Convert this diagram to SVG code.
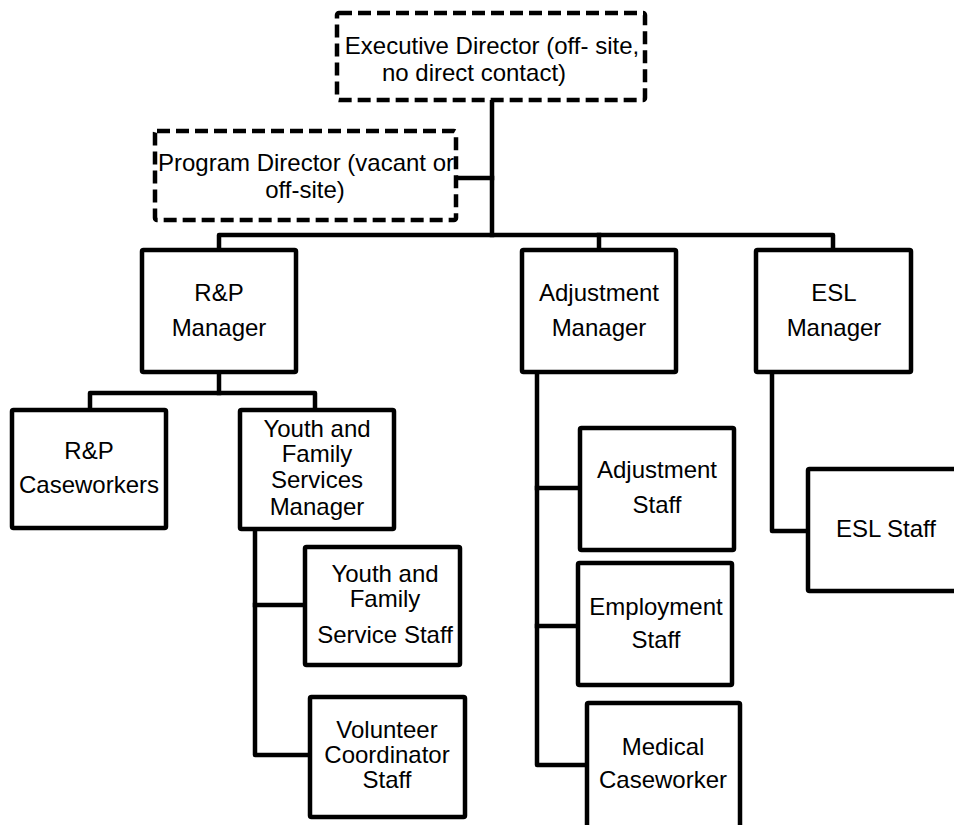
<svg xmlns="http://www.w3.org/2000/svg" width="954" height="825" viewBox="0 0 954 825">
<style>
.box{fill:#fff;stroke:#000;stroke-width:4.5;stroke-linejoin:round}
.dash{fill:#fff;stroke:#000;stroke-width:4.5;stroke-dasharray:13 6;stroke-linejoin:round}
.con{fill:none;stroke:#000;stroke-width:4.5;stroke-linejoin:round;stroke-linecap:square}
text{font-family:"Liberation Sans",Arial,sans-serif;font-size:24px;fill:#000;text-anchor:middle}
</style>
<rect width="954" height="825" fill="#fff"/>
<g id="connectors">
<path class="con" d="M492,100 V235"/>
<path class="con" d="M456,178 H492"/>
<path class="con" d="M219,250 V235 H833 V250"/>
<path class="con" d="M599,235 V250"/>
<path class="con" d="M219,372 V393"/>
<path class="con" d="M90,410 V393 H315 V410"/>
<path class="con" d="M255,530 V755 H310"/>
<path class="con" d="M255,605 H305"/>
<path class="con" d="M537,372 V765 H587"/>
<path class="con" d="M537,488 H580"/>
<path class="con" d="M537,626 H578"/>
<path class="con" d="M772,372 V531 H808"/>
</g>
<g id="exec">
<rect class="dash" x="337" y="13" width="308" height="87" rx="2"/>
<text x="492" y="54">Executive Director (off- site,</text>
<text x="474" y="81">no direct contact)</text>
</g>
<g id="program">
<rect class="dash" x="155" y="131" width="301" height="89" rx="2"/>
<text x="306" y="171">Program Director (vacant or</text>
<text x="305" y="198">off-site)</text>
</g>
<g id="rp-manager">
<rect class="box" x="142" y="250" width="154" height="122" rx="1.5"/>
<text x="219" y="301">R&amp;P</text>
<text x="219" y="336">Manager</text>
</g>
<g id="adj-manager">
<rect class="box" x="522" y="250" width="154" height="122" rx="1.5"/>
<text x="599" y="301">Adjustment</text>
<text x="599" y="336">Manager</text>
</g>
<g id="esl-manager">
<rect class="box" x="756" y="250" width="155" height="122" rx="1.5"/>
<text x="834" y="301">ESL</text>
<text x="834" y="336">Manager</text>
</g>
<g id="rp-caseworkers">
<rect class="box" x="12" y="410" width="154" height="118" rx="1.5"/>
<text x="89" y="459">R&amp;P</text>
<text x="89" y="493">Caseworkers</text>
</g>
<g id="yfs-manager">
<rect class="box" x="240" y="410" width="154" height="119" rx="1.5"/>
<text x="317" y="437">Youth and</text>
<text x="317" y="462">Family</text>
<text x="317" y="488">Services</text>
<text x="317" y="515">Manager</text>
</g>
<g id="yfs-staff">
<rect class="box" x="305" y="547" width="155" height="118" rx="1.5"/>
<text x="385" y="582">Youth and</text>
<text x="385" y="607">Family</text>
<text x="385" y="643">Service Staff</text>
</g>
<g id="volunteer">
<rect class="box" x="310" y="697" width="155" height="120" rx="1.5"/>
<text x="387" y="738">Volunteer</text>
<text x="387" y="763">Coordinator</text>
<text x="387" y="788">Staff</text>
</g>
<g id="adj-staff">
<rect class="box" x="580" y="428" width="154" height="122" rx="1.5"/>
<text x="657" y="478">Adjustment</text>
<text x="657" y="513">Staff</text>
</g>
<g id="employment">
<rect class="box" x="578" y="563" width="154" height="122" rx="1.5"/>
<text x="656" y="615">Employment</text>
<text x="656" y="648">Staff</text>
</g>
<g id="medical">
<rect class="box" x="587" y="703" width="153" height="130" rx="1.5"/>
<text x="663" y="755">Medical</text>
<text x="663" y="788">Caseworker</text>
</g>
<g id="esl-staff">
<rect class="box" x="808" y="469" width="160" height="122" rx="1.5"/>
<text x="886" y="537">ESL Staff</text>
</g>
</svg>
